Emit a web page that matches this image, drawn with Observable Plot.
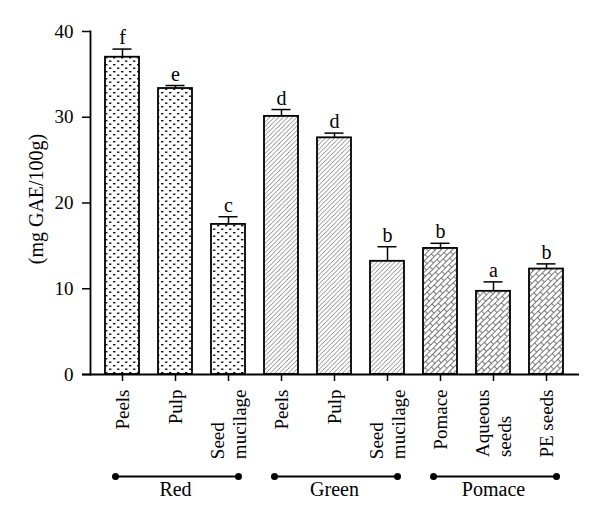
<!DOCTYPE html>
<html>
<head>
<meta charset="utf-8">
<script src="https://cdn.jsdelivr.net/npm/d3@7"></script>
<script src="https://cdn.jsdelivr.net/npm/@observablehq/plot@0.6"></script>
<style>
  html, body { margin: 0; padding: 0; background: #fff; }
  #chart svg { display: block; }
</style>
</head>
<body>
<div id="chart"></div>
<script>
// ---- data ----
const keys = ["Red-Peels","Red-Pulp","Red-Seed","Green-Peels","Green-Pulp","Green-Seed","Pomace-Pomace","Pomace-Aqueous","Pomace-PE"];
const groupOf = ["Red","Red","Red","Green","Green","Green","Pomace","Pomace","Pomace"];
const labels = ["Peels","Pulp","Seed\nmucilage","Peels","Pulp","Seed\nmucilage","Pomace","Aqueous\nseeds","PE seeds"];
const values = [37.0, 33.35, 17.5, 30.1, 27.6, 13.2, 14.7, 9.7, 12.3];
const errors = [0.95, 0.35, 0.9, 0.8, 0.55, 1.7, 0.6, 1.1, 0.6];
const letters = ["f","e","c","d","d","b","b","a","b"];
const groups = ["Red","Green","Pomace"];
const yTicks = [0, 10, 20, 30, 40];
const yLabel = "(mg GAE/100g)";

const FONT = "'Liberation Serif', 'Times New Roman', serif";
const patternOf = {Red: "url(#pDots)", Green: "url(#pHatch)", Pomace: "url(#pBrick)"};

const data = keys.map((k, i) => ({key: k, group: groupOf[i], label: labels[i], v: values[i], e: errors[i], top: values[i] + errors[i], letter: letters[i]}));

const groupData = groups.map(g => {
  const members = data.filter(d => d.group === g);
  return {group: g, first: members[0].key, last: members[members.length - 1].key, mid: members[Math.floor(members.length / 2)].key};
});

// measure text for start-aligned multi-line tick labels
const ctx = document.createElement("canvas").getContext("2d");
const tickFont = 19;
ctx.font = `${tickFont}px ${FONT}`;
const lineGap = 22;
const labelLines = [];
data.forEach(d => {
  const lines = d.label.split("\n");
  const maxLen = Math.max(...lines.map(l => ctx.measureText(l).width));
  lines.forEach((l, j) => labelLines.push({key: d.key, text: l, off: (j - (lines.length - 1) / 2) * lineGap, maxLen}));
});

const defs = () => {
  const el = document.createElementNS("http://www.w3.org/2000/svg", "defs");
  el.innerHTML = `
  <pattern id="pDots" patternUnits="userSpaceOnUse" width="8" height="7">
    <rect width="8" height="7" fill="white"/>
    <rect x="1" y="1" width="2.4" height="1.4" fill="#111"/>
    <rect x="5" y="4.5" width="2.4" height="1.4" fill="#111"/>
  </pattern>
  <pattern id="pHatch" patternUnits="userSpaceOnUse" width="4.5" height="4.5">
    <rect width="4.5" height="4.5" fill="white"/>
    <path d="M-1,1 L1,-1 M0,4.5 L4.5,0 M3.5,5.5 L5.5,3.5" stroke="#666" stroke-width="0.8"/>
  </pattern>
  <pattern id="pBrick" patternUnits="userSpaceOnUse" width="10" height="8" patternTransform="rotate(-45)">
    <rect width="10" height="8" fill="white"/>
    <path d="M0,0.5 H10 M0,4.5 H10 M0.5,0.5 V4.5 M5.5,4.5 V8.5" stroke="#555" stroke-width="0.8" fill="none"/>
  </pattern>`;
  return el;
};

const marks = [
  defs,
  ...groups.map(g => Plot.barY(data.filter(d => d.group === g), {x: "key", y: "v", fill: patternOf[g], stroke: "black", strokeWidth: 1.8})),
  Plot.ruleX(data, {x: "key", y1: "v", y2: "top", stroke: "black", strokeWidth: 1.5}),
  Plot.tickY(data, {x: "key", y: "top", stroke: "black", strokeWidth: 1.5, insetLeft: 7.5, insetRight: 7.5}),
  Plot.text(data, {x: "key", y: "top", text: "letter", lineAnchor: "bottom", dy: -5, fontSize: 20}),
  Plot.axisY({ticks: yTicks, tickSize: 8, tickPadding: 9, fontSize: 19, strokeWidth: 1.5, label: null}),
  Plot.frame({anchor: "left", strokeWidth: 1.8}),
  Plot.ruleY([0], {insetLeft: -8, insetRight: -1, strokeWidth: 1.8}),
  Plot.axisX({tickSize: 7, tickFormat: () => "", strokeWidth: 1.5, label: null}),
  ...labelLines.map(l => Plot.text([l], {x: "key", y: () => 0, text: "text", rotate: -90, textAnchor: "start", lineAnchor: "middle", dx: l.off, dy: 15 + l.maxLen, fontSize: tickFont})),
  Plot.text([yLabel], {frameAnchor: "left", textAnchor: "middle", lineAnchor: "middle", rotate: -90, dx: -54, dy: -4, fontSize: 20}),
  Plot.ruleY(groupData, {x1: "first", x2: "last", y: () => 0, dy: 102, insetLeft: 10.5, insetRight: 7.5, strokeWidth: 1.8}),
  Plot.dot(groupData, {x: "first", y: () => 0, dx: -7, dy: 102, r: 3.5, fill: "black"}),
  Plot.dot(groupData, {x: "last", y: () => 0, dx: 10, dy: 102, r: 3.5, fill: "black"}),
  Plot.text(groupData, {x: "mid", y: () => 0, text: "group", dy: 115, fontSize: 20})
];

const chart = Plot.plot({
  width: 600,
  height: 523,
  marginTop: 31,
  marginBottom: 149,
  marginLeft: 90,
  marginRight: 22,
  x: {domain: keys, paddingInner: 0.35, paddingOuter: 0.194},
  y: {domain: [0, 40]},
  style: {fontFamily: FONT, fontSize: "19px", color: "black", background: "white", overflow: "visible"},
  marks
});
document.getElementById("chart").appendChild(chart);
</script>
</body>
</html>
